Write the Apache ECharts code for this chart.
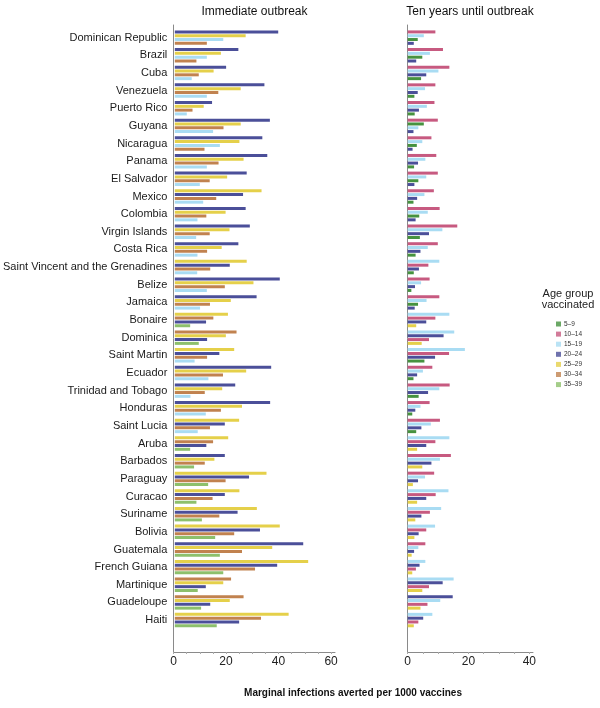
<!DOCTYPE html>
<html><head><meta charset="utf-8">
<script src="https://cdn.jsdelivr.net/npm/echarts@6/dist/echarts.min.js"></script>
<style>html,body{margin:0;padding:0;background:#fff}#c{width:600px;height:708px}</style>
</head><body><div id="c"></div>
<script>
const countries = ['Dominican Republic','Brazil','Cuba','Venezuela','Puerto Rico','Guyana','Nicaragua','Panama','El Salvador','Mexico','Colombia','Virgin Islands','Costa Rica','Saint Vincent and the Grenadines','Belize','Jamaica','Bonaire','Dominica','Saint Martin','Ecuador','Trinidad and Tobago','Honduras','Saint Lucia','Aruba','Barbados','Paraguay','Curacao','Suriname','Bolivia','Guatemala','French Guiana','Martinique','Guadeloupe','Haiti'];
const ageGroups = ['5–9','10–14','15–19','20–24','25–29','30–34','35–39'];
const panelTitles = ['Immediate outbreak','Ten years until outbreak'];
const axisTitle = 'Marginal infections averted per 1000 vaccines';
const legendTitle = ['Age group','vaccinated'];
const tickLabels = [0,20,40,60];

// Immediate outbreak (only the four shown age groups per country)
const imm_15_19 = [18.6,12.3,6.5,12.3,4.6,14.7,17.3,12.3,9.6,10.9,8.7,8.2,8.7,8.6,12.3,9.7,null,null,7.6,12.9,6.0,11.9,8.8,null,null,null,null,null,null,null,null,null,null,null];
const imm_20_24 = [39.7,24.4,19.7,34.4,14.3,36.5,33.6,35.5,27.6,26.2,27.2,28.8,24.4,21.1,40.3,31.4,12.0,12.4,17.1,37.0,23.2,36.6,19.2,12.1,19.2,28.5,19.2,24.1,32.7,49.3,39.3,11.9,13.6,24.7];
const imm_25_29 = [27.2,17.7,14.9,25.3,11.1,25.3,24.8,26.4,20.1,33.3,19.5,21.0,18.0,27.6,30.2,21.5,20.4,19.6,22.8,27.4,18.2,25.8,24.7,20.5,15.2,35.2,24.8,31.5,40.3,37.4,51.2,18.6,21.1,43.7];
const imm_30_34 = [12.3,8.3,9.2,16.7,6.8,18.7,11.4,16.8,13.4,15.9,12.1,13.4,12.4,13.6,19.2,13.5,14.8,23.7,12.4,18.5,11.5,17.7,13.5,14.7,11.5,19.5,14.5,17.1,22.8,25.8,30.8,21.6,26.4,33.1];
const imm_35_39 = [null,null,null,null,null,null,null,null,null,null,null,null,null,null,null,null,5.9,9.2,null,null,null,null,null,5.9,7.4,12.8,8.3,10.4,15.5,17.3,18.6,8.8,10.1,16.1];

// Ten years until outbreak
const ten_5_9 = [3.3,4.8,4.4,2.2,2.3,5.3,3.0,2.1,3.5,1.9,3.8,4.0,2.6,2.0,1.2,3.4,null,null,5.5,1.9,3.6,1.5,2.8,null,null,null,null,null,null,null,null,null,null,null];
const ten_10_14 = [9.1,11.6,13.7,9.1,8.8,9.9,7.8,9.4,9.9,8.6,10.5,16.3,9.9,6.8,7.2,10.4,9.1,7.0,13.6,8.1,13.8,7.2,10.6,9.1,14.2,8.7,9.2,7.3,6.1,5.8,2.7,7.0,6.5,3.5];
const ten_15_19 = [5.3,7.3,10.1,5.7,6.3,3.5,4.8,5.8,6.1,5.5,6.6,11.4,6.6,10.4,4.4,6.2,13.7,15.3,18.8,5.0,10.4,4.2,7.6,13.7,10.6,5.7,13.4,11.0,9.0,3.5,5.8,15.1,10.7,8.1];
const ten_20_24 = [2.0,2.8,6.1,3.3,3.7,1.9,1.6,3.4,2.2,3.1,2.6,7.0,4.2,3.7,2.4,2.3,6.1,11.8,9.0,3.1,6.7,2.5,4.5,6.1,7.8,3.4,6.1,4.5,3.6,2.1,3.9,11.5,14.8,5.1];
const ten_25_29 = [null,null,null,null,null,null,null,null,null,null,null,null,null,null,null,null,2.8,4.6,null,null,null,null,null,3.1,4.8,1.7,3.1,2.5,2.2,1.3,1.5,4.8,4.2,2.0];

const ageColors = ['#46923f','#c75a80','#a9dcf3','#4b4f99','#e5d04a','#c1824f','#8dc06c'];
const FONT = '"Liberation Sans", Arial, sans-serif';

const panels = [
  { groups: [[2,imm_15_19],[3,imm_20_24],[4,imm_25_29],[5,imm_30_34],[6,imm_35_39]], left:173.5, right:335, max:61.5, labels:true },
  { groups: [[0,ten_5_9],[1,ten_10_14],[2,ten_15_19],[3,ten_20_24],[4,ten_25_29]], left:407.7, right:533, max:41.2, labels:false }
];

function ranked(groups){
  return countries.map((c,i)=>{
    const items=[];
    groups.forEach(([g,arr])=>{ if(arr[i]!=null) items.push({g, v:arr[i]}); });
    items.sort((a,b)=>b.v-a.v);
    return items;
  });
}

const grid=[], xAxis=[], yAxis=[], series=[];
panels.forEach((p,pi)=>{
  const a = pi*2, b = pi*2+1;
  grid.push({left:p.left, width:p.right-p.left, top:28.8, height:600.1, containLabel:false});
  grid.push({left:p.left, width:p.right-p.left, top:25, height:627, containLabel:false});
  xAxis.push({gridIndex:a, type:'value', min:0, max:p.max, show:false, splitLine:{show:false}});
  yAxis.push({gridIndex:a, type:'category', inverse:true, data:countries,
    axisLine:{show:false}, axisTick:{show:false}, splitLine:{show:false},
    axisLabel:{show:p.labels, margin:7.5, fontSize:11, color:'#1a1a1a', fontFamily:FONT, interval:0}});
  xAxis.push({gridIndex:b, type:'value', min:0, max:p.max, interval:5,
    splitLine:{show:false},
    axisLine:{show:true, lineStyle:{color:'#8a8a8a', width:1}},
    axisTick:{show:true, length:2, lineStyle:{color:'#aaa'}},
    axisLabel:{show:true, margin:4, fontSize:12, color:'#222', fontFamily:FONT, showMaxLabel:false,
      formatter:v=> tickLabels.indexOf(v)>=0 ? String(v) : ''}});
  yAxis.push({gridIndex:b, type:'value', min:0, max:1,
    axisLine:{show:true, lineStyle:{color:'#8a8a8a', width:1}},
    axisTick:{show:false}, axisLabel:{show:false}, splitLine:{show:false}});
  const rk = ranked(p.groups);
  for(let r=0;r<4;r++){
    series.push({type:'bar', name:'rank'+r+'_'+pi, xAxisIndex:a, yAxisIndex:a, barWidth:3, barGap:'27%', silent:true,
      data: rk.map(items=> items[r] ? {value:items[r].v, itemStyle:{color:ageColors[items[r].g]}} : null)});
  }
});
ageGroups.forEach((g,k)=>{
  series.push({type:'scatter', name:g, xAxisIndex:1, yAxisIndex:1, data:[], itemStyle:{color:ageColors[k]}});
});

const chart = echarts.init(document.getElementById('c'), null, {renderer:'canvas'});
chart.setOption({
  animation:false,
  backgroundColor:'#fff',
  textStyle:{fontFamily:FONT},
  grid, xAxis, yAxis, series,
  legend:{orient:'vertical', left:556, top:320.5, icon:'rect', itemWidth:5, itemHeight:5, itemGap:3.1,
    data:ageGroups, selectedMode:false, padding:0,
    textStyle:{fontSize:6.5, lineHeight:5, color:'#333', fontFamily:FONT, padding:[0,0,0,-2]}},
  graphic:[
    {type:'text', x:254.5, y:12, style:{text:panelTitles[0], fontSize:12, fontFamily:FONT, fill:'#111', align:'center', verticalAlign:'middle'}},
    {type:'text', x:470, y:12, style:{text:panelTitles[1], fontSize:12, fontFamily:FONT, fill:'#111', align:'center', verticalAlign:'middle'}},
    {type:'text', x:568, y:294, style:{text:legendTitle[0], fontSize:11, fontFamily:FONT, fill:'#222', align:'center', verticalAlign:'middle'}},
    {type:'text', x:568, y:305, style:{text:legendTitle[1], fontSize:11, fontFamily:FONT, fill:'#222', align:'center', verticalAlign:'middle'}},
    {type:'text', x:353, y:693, style:{text:axisTitle, fontSize:10, fontWeight:'bold', fontFamily:FONT, fill:'#111', align:'center', verticalAlign:'middle'}}
  ]
});
</script></body></html>
